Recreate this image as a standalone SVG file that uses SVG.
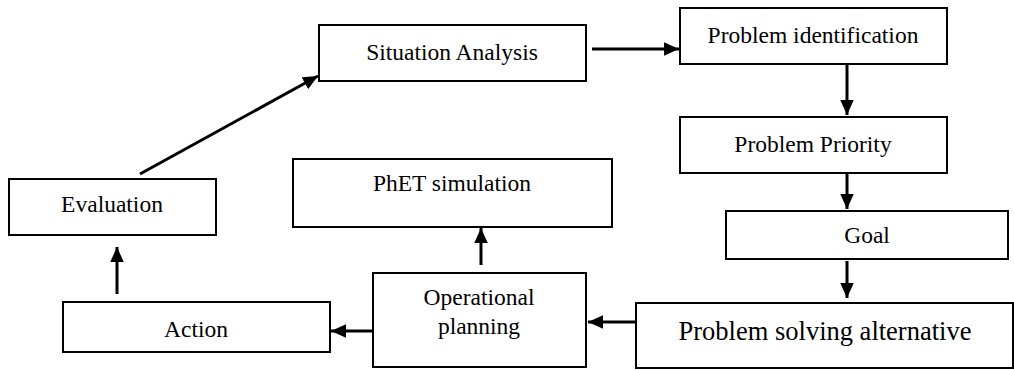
<svg xmlns="http://www.w3.org/2000/svg" width="1014" height="370" viewBox="0 0 1014 370">
<defs>
<style>
.box{fill:#fff;stroke:#000;stroke-width:2}
.t{font-family:"Liberation Serif","Times New Roman",serif;font-size:23.5px;fill:#000;text-anchor:middle}
.big{font-size:26.5px}
.c{stroke:#000;stroke-width:3;fill:none;marker-end:url(#ah)}
</style>
<marker id="ah" viewBox="0 0 10 10" refX="10" refY="5" markerWidth="5" markerHeight="4.5" markerUnits="strokeWidth" orient="auto" preserveAspectRatio="none">
<path d="M0,0 L10,5 L0,10 z" fill="#000"/>
</marker>
</defs>
<rect width="1014" height="370" fill="#fff"/>
<g id="situation"><rect class="box" x="319" y="25" width="267" height="56"/><text class="t" x="452" y="60">Situation Analysis</text></g>
<g id="identification"><rect class="box" x="680" y="8" width="267" height="56"/><text class="t" x="813" y="43">Problem identification</text></g>
<g id="priority"><rect class="box" x="680" y="117" width="267" height="56"/><text class="t" x="813" y="152">Problem Priority</text></g>
<g id="goal"><rect class="box" x="726" y="211" width="282" height="48"/><text class="t" x="867" y="243">Goal</text></g>
<g id="alternative"><rect class="box" x="636" y="303" width="377" height="65"/><text class="t big" x="825" y="340">Problem solving alternative</text></g>
<g id="operational"><rect class="box" x="373" y="273" width="213" height="94"/><text class="t" x="479" y="305">Operational</text><text class="t" x="479" y="334">planning</text></g>
<g id="action"><rect class="box" x="63" y="302" width="267" height="50"/><text class="t" x="196" y="337">Action</text></g>
<g id="evaluation"><rect class="box" x="9" y="179" width="207" height="56"/><text class="t" x="112" y="212">Evaluation</text></g>
<g id="phet"><rect class="box" x="293" y="159" width="319" height="68"/><text class="t" x="452" y="191">PhET simulation</text></g>
<g id="connectors">
<line class="c" x1="140" y1="174" x2="318" y2="76"/>
<line class="c" x1="592" y1="49" x2="679" y2="49"/>
<line class="c" x1="847" y1="65" x2="847" y2="115"/>
<line class="c" x1="847" y1="174" x2="847" y2="209"/>
<line class="c" x1="847" y1="261" x2="847" y2="298"/>
<line class="c" x1="635" y1="322" x2="588" y2="322"/>
<line class="c" x1="373" y1="331" x2="331" y2="331"/>
<line class="c" x1="117" y1="294" x2="117" y2="247"/>
<line class="c" x1="481" y1="265" x2="481" y2="228"/>
</g>
</svg>
